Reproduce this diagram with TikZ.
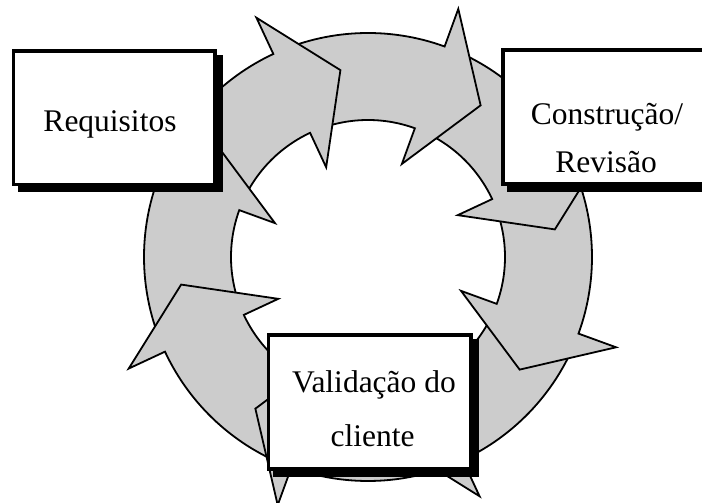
\documentclass[tikz,border=0pt]{standalone}
\usepackage{fontspec}
\setmainfont{Liberation Serif}
\usetikzlibrary{calc}

\pgfdeclarelayer{ring}
\pgfdeclarelayer{shade}
\pgfsetlayers{ring,shade,main}

\definecolor{ringgray}{RGB}{204,204,204}

\tikzset{
  ringpiece/.style={fill=ringgray, draw=black, line width=1.8pt, line join=miter},
  card/.style={draw=black, fill=white, line width=3.3pt, inner sep=0pt},
  cardshadow/.style={fill=black},
  cardtext/.style={anchor=base, inner sep=0pt, font=\fontsize{31.5}{38}\selectfont}
}

% One curved arrow of the cycle: body spans 45 degrees ending at angle #1,
% triangular head whose base lies on the radius at #1.
\newcommand\cyclearrow[1]{%
  \filldraw[ringpiece]
    ($(hub)+({#1+45}:224)$) arc[start angle={#1+45}, end angle={#1}, radius=224]
    -- ($(hub)+({#1}:264)$)
    -- ($(hub)+({#1-16.6}:188.9)$)
    -- ($(hub)+({#1}:99)$)
    -- ($(hub)+({#1}:137)$)
    arc[start angle={#1}, end angle={#1+45}, radius=137]
    -- cycle;}

\begin{document}
\begin{tikzpicture}[x=1pt, y=1pt]
  \useasboundingbox (0,0) rectangle (702,503);
  \coordinate (hub) at (368,246);

  % ring of eight arrows running clockwise
  \begin{pgfonlayer}{ring}
    \foreach \a in {-65,-20,25,70,115,160,205,250}{\cyclearrow{\a}}
  \end{pgfonlayer}

  % the three stage boxes
  \node[card, minimum width=201.7, minimum height=133.5] (req) at (114.15,385.25) {};
  \node[card, minimum width=205, minimum height=134] (build) at (605.5,386) {};
  \node[card, minimum width=202.7, minimum height=134] (valid) at (369.65,101) {};

  % drop shadows behind the boxes
  \begin{pgfonlayer}{shade}
    \foreach \b in {req,build,valid}{
      \fill[cardshadow] ([shift={(6,-6)}]\b.south west) rectangle ([shift={(6,-6)}]\b.north east);
    }
  \end{pgfonlayer}

  % labels
  \node[cardtext] (reqtxt) at (110,371.3) {Requisitos};
  \node[cardtext] (buildtxta) at (607,378) {Construção/};
  \node[cardtext] (buildtxtb) at (606,330) {Revisão};
  \node[cardtext] (validtxta) at (374,110) {Validação do};
  \node[cardtext] (validtxtb) at (372.5,56) {cliente};
\end{tikzpicture}
\end{document}
